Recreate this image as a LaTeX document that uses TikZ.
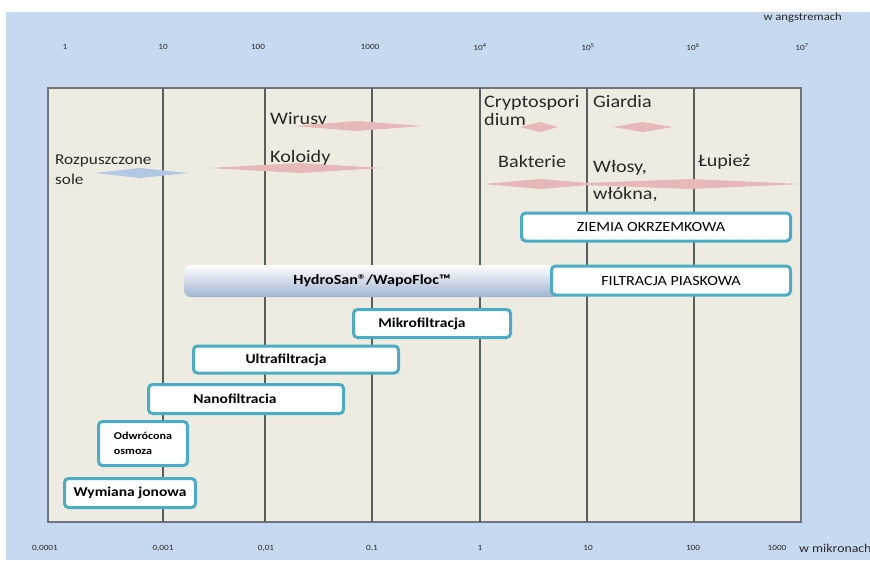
\documentclass[tikz,border=0pt]{standalone}
\usepackage{fontspec}
\setmainfont{Carlito}[FakeStretch=1.15]
\usepackage{tikz}
\definecolor{skyback}{RGB}{198,217,241}
\definecolor{chartback}{RGB}{238,236,225}
\definecolor{framegray}{RGB}{112,116,122}
\definecolor{boxteal}{RGB}{75,172,198}
\definecolor{grainpink}{RGB}{230,185,184}
\definecolor{grainblue}{RGB}{178,200,228}
\definecolor{labelink}{RGB}{40,40,40}
\definecolor{barbottom}{RGB}{160,180,208}
\def\grain[#1](#2:#3:#4:#5){\fill[#1] (#2,#5) -- (#3,#5-5) -- (#4,#5) -- (#3,#5+5) -- cycle;}
\tikzset{
  gridline/.style={draw=framegray!80!black, line width=1.3pt},
  axislabel/.style={font=\fontsize{8}{9}\selectfont, text=labelink, inner sep=0pt},
  grainlabel/.style={font=\fontsize{17.5}{20}\selectfont, text=labelink, inner sep=0pt, align=left},
  filterbox/.style={draw=boxteal, line width=3pt, fill=white, rounded corners=4pt,
    inner sep=0pt, font=\fontsize{13.5}{15}\selectfont\bfseries, text=black},
  plainbox/.style={filterbox, font=\fontsize{14}{15}\selectfont}
}
\begin{document}
\begin{tikzpicture}[x=1pt,y=-1pt]
\clip (0,0) rectangle (870,560);
\fill[white] (0,0) rectangle (870,560);
\fill[skyback] (6,12) rectangle (870,560);

% wykres
\draw[fill=chartback, draw=framegray, line width=2pt] (48,88) rectangle (801,522);
\foreach \x in {163,265,372,480,587,694}
  \draw[gridline] (\x,88) -- (\x,522);

% skale
\node[axislabel, anchor=east, font=\fontsize{11}{12}\selectfont] (angstrem) at (842,18) {w angstremach};
\foreach \x/\t in {65/1,163/10,258/100,370/1000,480/10\textsuperscript{4},588/10\textsuperscript{5},693/10\textsuperscript{6},802/10\textsuperscript{7}}
  \node[axislabel] (top\x) at (\x,47) {\t};
\foreach \x/\t in {45/{0,0001},163/{0,001},266/{0,01},372/{0,1},480/1,588/10,693/100,777/1000}
  \node[axislabel] (bot\x) at (\x,548) {\t};
\node[axislabel, anchor=west, font=\fontsize{12}{13}\selectfont] (mikron) at (799,548) {w mikronach};

% czastki
\grain[grainpink](293:357:422:126)
\grain[grainpink](208:300:383:168)
\grain[grainblue](95:140:188:173)
\grain[grainpink](520:540:558:127)
\grain[grainpink](613:643:673:127)
\grain[grainpink](483:540:600:184)
\grain[grainpink](560:690:803:184)

\node[grainlabel, anchor=base west] (wirusy) at (270,124) {Wirusv};
\node[grainlabel, anchor=base west] (koloidy) at (270,162) {Koloidy};
\node[grainlabel, anchor=north west, font=\fontsize{15}{20}\selectfont] (sole) at (55,155) {Rozpuszczone\\sole};
\node[grainlabel, anchor=north west, font=\fontsize{17.5}{18}\selectfont] (crypto) at (484,95) {Cryptospori\\dium};
\node[grainlabel, anchor=base west] (giardia) at (593,107) {Giardia};
\node[grainlabel, anchor=base west] (bakterie) at (498,167) {Bakterie};
\node[grainlabel, anchor=north west, font=\fontsize{17.5}{27}\selectfont] (wlosy) at (593,160) {Włosy,\\włókna,};
\node[grainlabel, anchor=base west] (lupiez) at (698,166) {Łupież};

% metody filtracji
\node[plainbox, minimum width=269pt, minimum height=28pt] (ziemia) at (656,227) {ZIEMIA OKRZEMKOWA\hspace*{10pt}};
\shade[top color=white, bottom color=barbottom, rounded corners=7pt] (184,265) rectangle (560,297);
\node[font=\fontsize{14}{15}\selectfont\bfseries, inner sep=0pt] (hydro) at (372,281) {HydroSan®/WapoFloc™};
\node[plainbox, minimum width=239pt, minimum height=29pt] (piasek) at (671,280.5) {FILTRACJA PIASKOWA};
\node[filterbox, minimum width=157pt, minimum height=28pt] (mikro) at (432,323.5) {Mikrofiltracja\hspace*{20pt}};
\node[filterbox, minimum width=205pt, minimum height=27pt] (ultra) at (296,359.5) {Ultrafiltracja\hspace*{20pt}};
\node[filterbox, minimum width=195pt, minimum height=29pt] (nano) at (246,399) {Nanofiltracia\hspace*{22pt}};
\node[filterbox, minimum width=89pt, minimum height=44pt, align=left,
  font=\fontsize{10.5}{15}\selectfont\bfseries] (osmoza) at (143,443.5) {Odwrócona\\osmoza};
\node[filterbox, minimum width=131pt, minimum height=29pt] (jony) at (130,493) {Wymiana jonowa};
\end{tikzpicture}
\end{document}
